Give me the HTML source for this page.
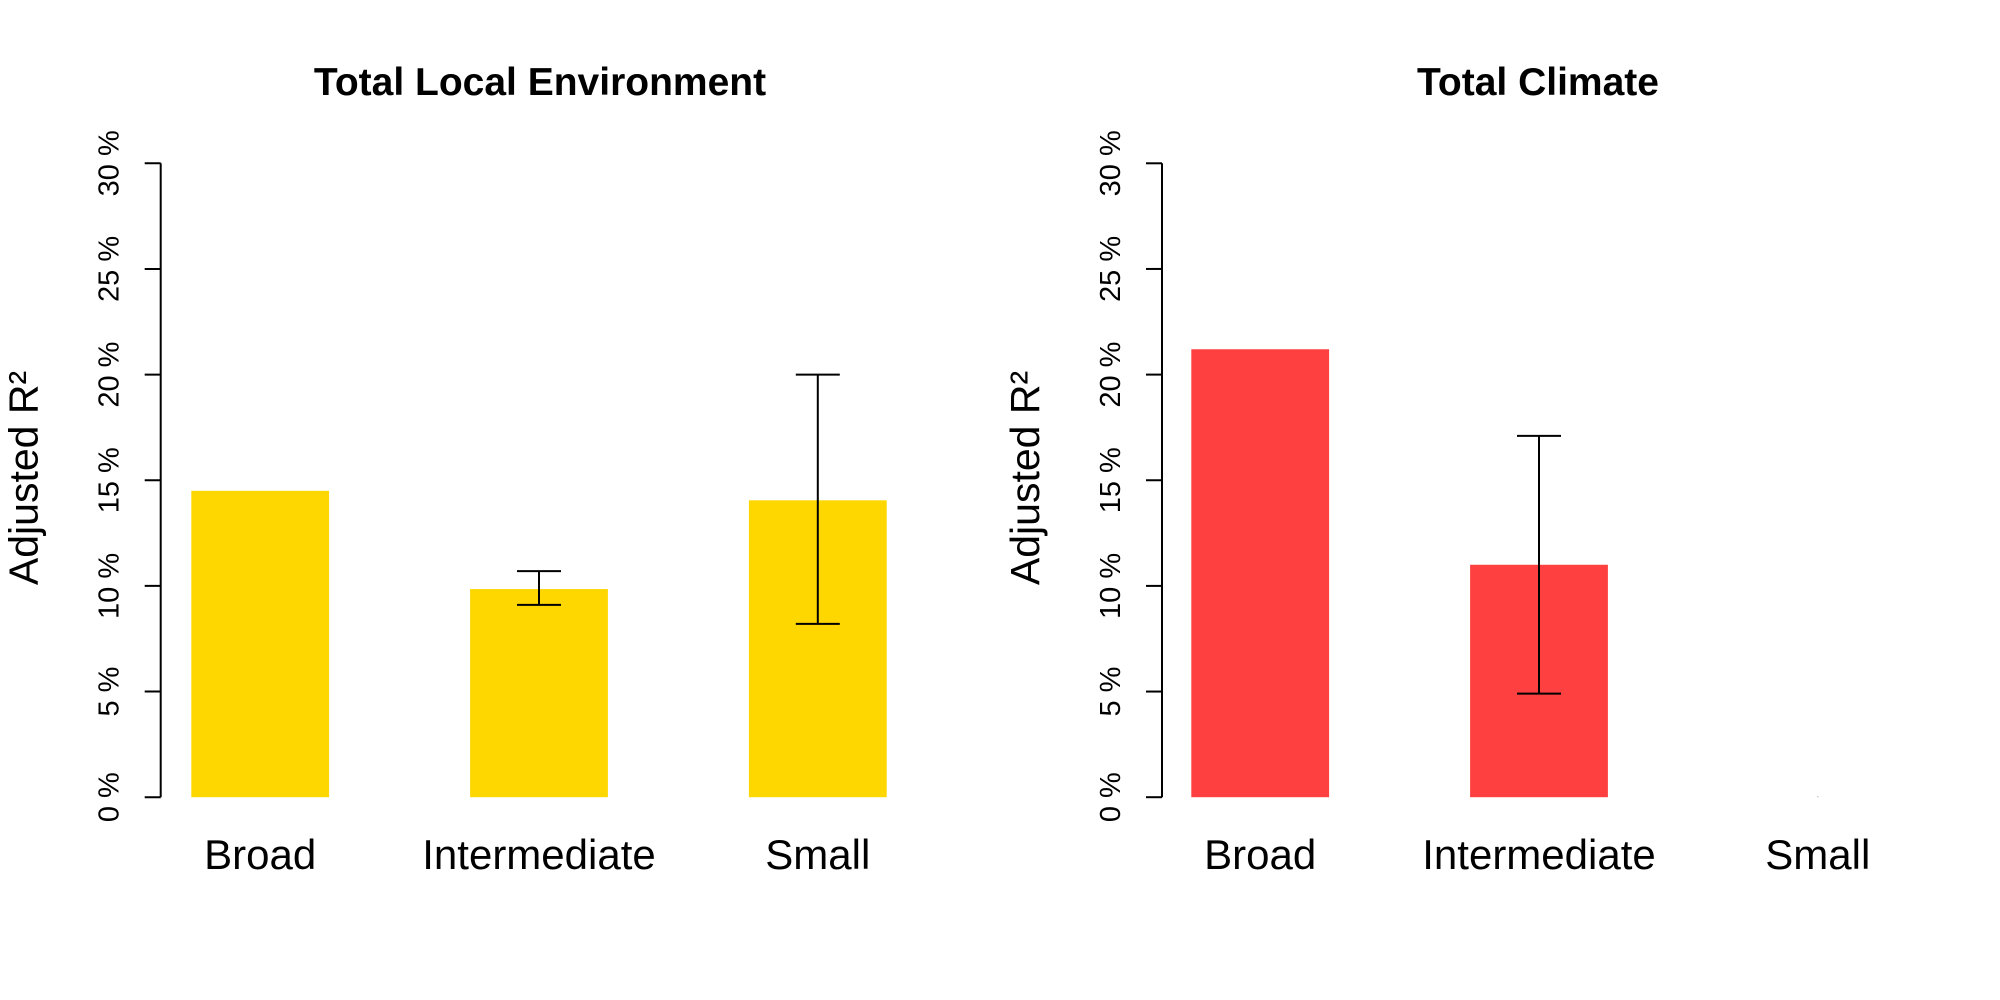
<!DOCTYPE html>
<html><head><meta charset="utf-8"><style>
html,body{margin:0;padding:0;background:#fff;}
svg{display:block;font-family:"Liberation Sans",Arial,sans-serif;}
</style></head><body>
<svg id="chart" width="2000" height="1000" viewBox="0 0 2000 1000"></svg>
<script>
const categories = ["Broad","Intermediate","Small"];
const panelTitles = ["Total Local Environment","Total Climate"];
const localValues = [14.5, 9.85, 14.05];
const localLow = [null, 9.1, 8.2];
const localHigh = [null, 10.7, 20.0];
const climateValues = [21.2, 11.0, 0];
const climateLow = [null, 4.9, null];
const climateHigh = [null, 17.1, null];
const tickValues = [0,5,10,15,20,25,30];
const tickLabels = ["0 %","5 %","10 %","15 %","20 %","25 %","30 %"];

const svg = document.getElementById('chart');
const NS = "http://www.w3.org/2000/svg";
function mk(tag, attrs, parent){const e=document.createElementNS(NS,tag);for(const k in attrs)e.setAttribute(k,attrs[k]);(parent||svg).appendChild(e);return e;}
const y0 = 797.2, y30 = 163.3;
function yScale(v){return y0 - (v/30)*(y0-y30);}
const panels = [
  {axisX:160.7, first:191.3, values:localValues, low:localLow, high:localHigh, color:"#FFD700", title:panelTitles[0], titleX:540},
  {axisX:1162, first:1191.3, values:climateValues, low:climateLow, high:climateHigh, color:"#FF4040", title:panelTitles[1], titleX:1538}
];
const step = 278.8, bw = 137.8;
function xCenter(p,i){return p.first + i*step + bw/2;}
panels.forEach((p,pi)=>{
  const g = mk('g',{});
  
  
  const t = mk('text',{x:p.titleX,y:95,'text-anchor':'middle','font-size':'39','font-weight':'bold'},g);
  t.textContent = p.title;
  
  
  const ax = mk('line',{x1:p.axisX,x2:p.axisX,y1:yScale(0),y2:yScale(30),stroke:'#000','stroke-width':2},g);
  
  
  tickValues.forEach((tv,i)=>{
    const y=yScale(tv);
    const tk = mk('line',{x1:p.axisX-16,x2:p.axisX,y1:y,y2:y,stroke:'#000','stroke-width':2},g);
    
    
    const lb = mk('text',{x:0,y:0,'text-anchor':'middle','font-size':'29',transform:`translate(${p.axisX-42},${y}) rotate(-90)`},g);
    lb.textContent = tickLabels[i];
    
    
  });
  const yl = mk('text',{x:0,y:0,'text-anchor':'middle','font-size':'41',transform:`translate(${p.axisX-123},478) rotate(-90)`},g);
  yl.textContent = "Adjusted R²";
  
  
  categories.forEach((c,i)=>{
    const cx = xCenter(p,i);
    const v = p.values[i];
    if(v>0){
      const b = mk('rect',{x:cx-bw/2,y:yScale(v),width:bw,height:yScale(0)-yScale(v),fill:p.color},g);
      
      
    } else {
      const d = mk('rect',{x:cx-0.5,y:yScale(0)-1,width:1,height:1,fill:'#999'},g);
      
      
    }
    if(p.low[i]!==null){
      const eg = mk('g',{stroke:'#000','stroke-width':2},g);
      
      
      mk('line',{x1:cx,x2:cx,y1:yScale(p.low[i]),y2:yScale(p.high[i])},eg);
      mk('line',{x1:cx-22,x2:cx+22,y1:yScale(p.low[i]),y2:yScale(p.low[i])},eg);
      mk('line',{x1:cx-22,x2:cx+22,y1:yScale(p.high[i]),y2:yScale(p.high[i])},eg);
    }
    const cl = mk('text',{x:cx,y:869,'text-anchor':'middle','font-size':'42'},g);
    cl.textContent = c;
    
    
  });
});
</script>
</body></html>
